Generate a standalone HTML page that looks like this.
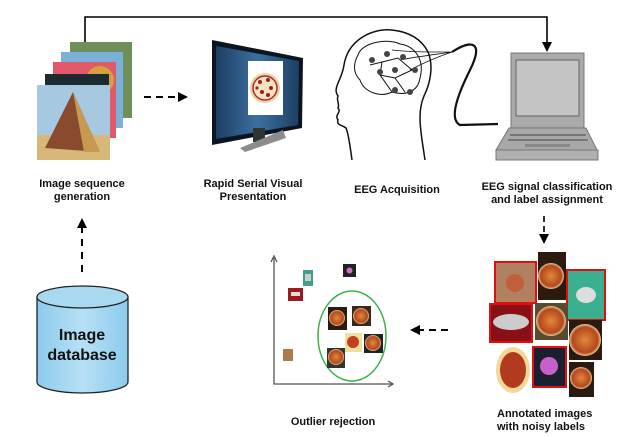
<!DOCTYPE html>
<html><head><meta charset="utf-8"><style>
html,body{margin:0;padding:0;background:#fff;}
svg{display:block;}
text{font-family:"Liberation Sans",Arial,sans-serif;font-weight:bold;font-size:11px;fill:#111;}
</style></head><body>
<svg width="640" height="437" viewBox="0 0 640 437" xmlns="http://www.w3.org/2000/svg">
<defs>
<marker id="ah" markerWidth="10" markerHeight="10" refX="8" refY="5" orient="auto" markerUnits="userSpaceOnUse"><path d="M0,0 L10,5 L0,10 z" fill="#000"/></marker>
<radialGradient id="pz" cx="50%" cy="50%" r="50%"><stop offset="0" stop-color="#e08a3a"/><stop offset="0.8" stop-color="#b5471e"/><stop offset="1" stop-color="#e8c890"/></radialGradient>
<linearGradient id="db" x1="0" x2="1"><stop offset="0" stop-color="#8ccbec"/><stop offset="0.5" stop-color="#b7e0f5"/><stop offset="1" stop-color="#8ccbec"/></linearGradient>
<linearGradient id="scr" x1="0" x2="1"><stop offset="0" stop-color="#1d3f63"/><stop offset="0.5" stop-color="#3c6fa0"/><stop offset="1" stop-color="#1d3f63"/></linearGradient>
</defs>
<!-- top connector -->
<polyline points="85,43 85,17 547,17 547,50" fill="none" stroke="#000" stroke-width="1.6" marker-end="url(#ah)"/>
<!-- image stack -->
<rect x="70" y="42" width="62" height="76" fill="#6f8f5a"/>
<rect x="61" y="52" width="62" height="76" fill="#7bb0d8"/>
<rect x="53" y="62" width="63" height="76" fill="#e25a6a"/>
<circle cx="100" cy="80" r="14" fill="#d6a040"/>
<rect x="45" y="74" width="64" height="76" fill="#1d2a30"/>
<rect x="37" y="85" width="73" height="75" fill="#a6c8e0"/>
<rect x="37" y="135" width="73" height="25" fill="#d8b878"/>
<polygon points="45,148 73,92 100,152" fill="#8a4a2e"/>
<polygon points="73,92 100,152 84,152" fill="#c89a50"/>
<!-- dashed arrow -->
<line x1="144" y1="97" x2="186" y2="97" stroke="#000" stroke-width="2" stroke-dasharray="7,5" marker-end="url(#ah)"/>
<!-- monitor -->
<polygon points="212,40 303,58 302,128 212,145" fill="#0c1420"/>
<polygon points="216,46 299,61 298,125 216,139" fill="url(#scr)"/>
<rect x="248" y="61" width="35" height="54" fill="#fff"/>
<circle cx="265" cy="88" r="15" fill="#e8d4a8"/>
<circle cx="265" cy="88" r="12" fill="#f3e3c0" stroke="#b42a2a" stroke-width="1.5"/>
<g fill="#9a1f1f"><circle cx="260" cy="82" r="2"/><circle cx="268" cy="80" r="2"/><circle cx="271" cy="88" r="2"/><circle cx="262" cy="92" r="2"/><circle cx="268" cy="95" r="2"/><circle cx="257" cy="88" r="1.6"/></g>
<rect x="253" y="128" width="12" height="14" fill="#333"/>
<polygon points="240,148 283,130 286,138 245,152" fill="#8c8c8c"/>
<!-- head -->
<g fill="none" stroke="#111" stroke-width="1.5">
<path d="M352,160 C350,145 348,132 346,128 C342,125 336,125 338,120 C334,115 342,112 338,108 C340,104 336,100 338,96 C332,88 342,80 344,65 C348,40 372,28 392,30 C410,32 422,40 428,52 C434,66 430,84 424,96 C418,110 420,125 422,140 L425,160"/>
<path d="M358,55 C362,42 388,38 400,44 C415,46 425,60 420,78 C418,92 405,96 392,92 C380,98 364,92 360,80 C352,72 354,62 358,55 Z" stroke-width="1"/>
<path d="M382,62 L398,58 L412,70 L395,78 L380,75 Z M370,65 L382,62 M395,78 L405,92 M380,75 L392,92" stroke-width="1"/>
<path d="M392,50 C410,52 425,52 452,52 M400,60 C420,56 440,54 452,52 M410,70 C425,62 440,56 452,52" stroke-width="0.8"/>
<path d="M452,52 C470,40 485,40 470,70 C455,100 450,120 460,125 L498,124" stroke-width="2.2"/>
</g>
<g fill="#444"><circle cx="372" cy="60" r="3"/><circle cx="387" cy="54" r="3"/><circle cx="403" cy="57" r="3"/><circle cx="380" cy="72" r="3"/><circle cx="395" cy="70" r="3"/><circle cx="415" cy="70" r="3"/><circle cx="395" cy="90" r="3"/><circle cx="410" cy="92" r="3"/></g>
<!-- laptop -->
<rect x="511" y="53" width="73" height="76" fill="#aaa" stroke="#777"/>
<rect x="516" y="60" width="63" height="56" fill="#c4c4c4" stroke="#666"/>
<polygon points="509,128 586,128 597,150 496,150" fill="#a8a8a8" stroke="#777"/>
<rect x="496" y="150" width="102" height="10" fill="#b0b0b0" stroke="#777"/>
<line x1="510" y1="135" x2="586" y2="135" stroke="#777" stroke-width="2"/>
<line x1="508" y1="140" x2="588" y2="140" stroke="#777" stroke-width="2"/>
<rect x="525" y="144" width="45" height="3" fill="#888"/>
<!-- labels top -->
<text x="82" y="187" text-anchor="middle">Image sequence</text>
<text x="82" y="200" text-anchor="middle">generation</text>
<text x="253" y="187" text-anchor="middle">Rapid Serial Visual</text>
<text x="253" y="200" text-anchor="middle">Presentation</text>
<text x="397" y="193" text-anchor="middle">EEG Acquisition</text>
<text x="547" y="190" text-anchor="middle">EEG signal classification</text>
<text x="547" y="203" text-anchor="middle">and label  assignment</text>
<!-- down arrow -->
<line x1="544" y1="216" x2="544" y2="242" stroke="#000" stroke-width="1.6" stroke-dasharray="6,4" marker-end="url(#ah)"/>
<!-- up dashed arrow -->
<line x1="82" y1="272" x2="82" y2="220" stroke="#000" stroke-width="2" stroke-dasharray="7,6" marker-end="url(#ah)"/>
<!-- database -->
<path d="M37,297 L37,382 A45.5,11 0 0 0 128,382 L128,297" fill="url(#db)" stroke="#222" stroke-width="1.3"/>
<ellipse cx="82.5" cy="297" rx="45.5" ry="11" fill="#a9d9f1" stroke="#222" stroke-width="1.3"/>
<text x="82" y="340" text-anchor="middle" style="font-size:16px">Image</text>
<text x="82" y="360" text-anchor="middle" style="font-size:16px">database</text>
<!-- plot -->
<g stroke="#555" stroke-width="1.3" fill="none">
<polyline points="274,258 274,384 392,384"/>
<polyline points="271,262 274,256 277,262"/>
<polyline points="388,381 393,384 388,387"/>
</g>
<rect x="303" y="270" width="10" height="16" fill="#3fa090"/><rect x="305" y="274" width="6" height="7" fill="#ccc"/>
<rect x="288" y="288" width="15" height="13" fill="#9a1a20"/><rect x="291" y="292" width="9" height="4" fill="#ddd"/>
<rect x="343" y="264" width="13" height="13" fill="#222"/><circle cx="349.5" cy="270.5" r="3" fill="#d070c0"/>
<rect x="283" y="349" width="10" height="12" fill="#b07850"/>
<ellipse cx="352" cy="336" rx="34" ry="45" fill="none" stroke="#3cb34a" stroke-width="1.5"/>
<rect x="328" y="307" width="19" height="23" fill="#2a1a10"/><circle cx="337" cy="318" r="8" fill="url(#pz)"/>
<rect x="352" y="306" width="19" height="20" fill="#3a2818"/><circle cx="361" cy="316" r="8" fill="url(#pz)"/>
<rect x="345" y="333" width="17" height="19" fill="#f0e0a0"/><circle cx="353" cy="342" r="6" fill="#c04020"/>
<rect x="364" y="334" width="19" height="19" fill="#222"/><circle cx="373" cy="343" r="8" fill="url(#pz)"/>
<rect x="327" y="348" width="18" height="20" fill="#333"/><circle cx="336" cy="357" r="8" fill="url(#pz)"/>
<!-- left dashed arrow -->
<line x1="448" y1="330" x2="412" y2="330" stroke="#000" stroke-width="2" stroke-dasharray="7,5" marker-end="url(#ah)"/>
<!-- annotated images -->
<rect x="495" y="262" width="41" height="41" fill="#b08060"/><circle cx="515" cy="283" r="9" fill="#c0603a"/>
<rect x="495" y="262" width="41" height="41" fill="none" stroke="#e01010" stroke-width="2"/>
<rect x="538" y="252" width="28" height="48" fill="#2a1a10"/><circle cx="551" cy="276" r="13" fill="url(#pz)"/>
<rect x="567" y="270" width="38" height="50" fill="#3ab090"/><ellipse cx="586" cy="295" rx="10" ry="8" fill="#ddd"/>
<rect x="567" y="270" width="38" height="50" fill="none" stroke="#e01010" stroke-width="2"/>
<rect x="490" y="304" width="42" height="38" fill="#8a1018"/><ellipse cx="511" cy="322" rx="18" ry="8" fill="#ccc"/>
<rect x="490" y="304" width="42" height="38" fill="none" stroke="#e01010" stroke-width="2"/>
<rect x="535" y="303" width="33" height="37" fill="#5a4a30"/><circle cx="551" cy="321" r="15" fill="url(#pz)"/>
<rect x="569" y="320" width="33" height="40" fill="#2a1a10"/><circle cx="585" cy="340" r="16" fill="url(#pz)"/>
<ellipse cx="513" cy="370" rx="17" ry="23" fill="#f0d898"/><ellipse cx="513" cy="370" rx="13" ry="18" fill="#b23a1e"/>
<rect x="533" y="347" width="33" height="40" fill="#1a2030"/><circle cx="549" cy="366" r="9" fill="#c860c8"/>
<rect x="533" y="347" width="33" height="40" fill="none" stroke="#e01010" stroke-width="2"/>
<rect x="569" y="362" width="25" height="35" fill="#2a1a10"/><circle cx="581" cy="378" r="11" fill="url(#pz)"/>
<!-- bottom labels -->
<text x="333" y="425" text-anchor="middle">Outlier rejection</text>
<text x="497" y="417">Annotated images</text>
<text x="497" y="430">with noisy labels</text>
</svg>
</body></html>
